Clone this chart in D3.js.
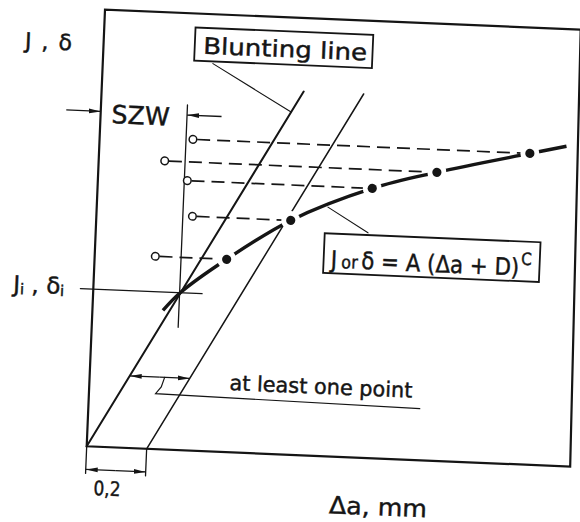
<!DOCTYPE html>
<html>
<head>
<meta charset="utf-8">
<script src="https://cdn.jsdelivr.net/npm/d3@7"></script>
<style>
  html, body { margin: 0; padding: 0; background: #fff; }
  svg { display: block; }
  text { font-family: "DejaVu Sans", sans-serif; fill: #151515; stroke: #151515; stroke-width: 0.45px; }
</style>
</head>
<body>
<svg id="chart" width="580" height="522"></svg>
<script>
// Measured points: crack extension Δa (mm) and J (or δ), J in % of the axis height
const pointDa = [0.44, 0.648, 0.915, 1.128, 1.435];
const pointJ  = [44.1, 53.6, 61.7, 66.0, 71.2];
// Open markers: Δa at which each point is first plotted before projection
const openDa  = [0.202, 0.32, 0.298, 0.22, 0.311];
// Power-law fit J = A(Δa + D)^C, drawn from its first to its last value
const fitDa = [0.235, 0.29, ...pointDa, 1.556];
const fitJ  = [31.8, 36.0, ...pointJ, 73.2];
// Blunting line and the parallel exclusion line
const bluntSlope = 123.6;   // J per mm
const bluntTopJ = 83.2;
const offsetDa = 0.2;       // mm
// Stretch zone width and initiation value
const szwDa = 0.288;
const initJ = 36.0;
// Axis domains
const daDomain = [0, 1.6];
const jDomain = [0, 100];

const ink = "#151515";
const svg = d3.select("#chart");

const x = d3.scaleLinear().domain(daDomain).range([0, 480]);
const y = d3.scaleLinear().domain(jDomain).range([0, -437]);

// whole sheet sits slightly turned
const g = svg.append("g").attr("transform", "translate(86.7,446.3) rotate(2.4)");

const defs = svg.append("defs");
defs.append("marker")
  .attr("id", "arr").attr("viewBox", "0 0 12 6")
  .attr("refX", 12).attr("refY", 3)
  .attr("markerWidth", 12).attr("markerHeight", 6)
  .attr("markerUnits", "userSpaceOnUse")
  .attr("orient", "auto-start-reverse")
  .append("path").attr("d", "M0,0.6 L12,3 L0,5.4 Z").attr("fill", ink);

const line = d3.line().x(d => x(d[0])).y(d => y(d[1]));
function seg(pts, w, extra) {
  const p = g.append("path").attr("d", line(pts))
    .attr("fill", "none").attr("stroke", ink).attr("stroke-width", w)
    .attr("stroke-linecap", "round");
  if (extra) extra(p);
  return p;
}

// frame
g.append("path")
  .attr("d", line([[0, 0], [0, 100], [1.587, 100], [1.613, 0]]) + "Z")
  .attr("fill", "none").attr("stroke", ink).attr("stroke-width", 2.2)
  .attr("stroke-linejoin", "miter");

// blunting line and exclusion line
seg([[0, 0], [bluntTopJ / bluntSlope, bluntTopJ]], 2);
seg([[offsetDa, 0], [offsetDa + bluntTopJ / bluntSlope, bluntTopJ]], 1.5);

// stretch zone width line and initiation level
seg([[szwDa, 28.1], [szwDa, 79]], 1.3);
seg([[-0.043, initJ], [0.363, initJ]], 1.3);

// dashed projections from the open markers to the measured points
pointDa.forEach((da, i) => {
  seg([[openDa[i] + 0.014, pointJ[i]], [da, pointJ[i]]], 1.7,
    p => p.attr("stroke-dasharray", "13,7").attr("stroke-linecap", "butt"));
});

// power-law fit
g.append("path")
  .attr("d", d3.line().x(d => x(d[0])).y(d => y(d[1])).curve(d3.curveCatmullRom)(fitDa.map((d, i) => [d, fitJ[i]])))
  .attr("fill", "none").attr("stroke", ink).attr("stroke-width", 3.4)
  .attr("stroke-linecap", "butt");

// clearance round each measured point
g.selectAll("circle.halo").data(pointDa).join("circle")
  .attr("class", "halo")
  .attr("cx", d => x(d)).attr("cy", (d, i) => y(pointJ[i]))
  .attr("r", 9.5).attr("fill", "#fff");

g.selectAll("circle.pt").data(pointDa).join("circle")
  .attr("class", "pt")
  .attr("cx", d => x(d)).attr("cy", (d, i) => y(pointJ[i]))
  .attr("r", 4.6).attr("fill", ink);

g.selectAll("circle.open").data(openDa).join("circle")
  .attr("class", "open")
  .attr("cx", d => x(d)).attr("cy", (d, i) => y(pointJ[i]))
  .attr("r", 3.8).attr("fill", "#fff").attr("stroke", ink).attr("stroke-width", 1.5);

// SZW dimension
seg([[-0.115, 76.7], [0, 76.7]], 1.3, p => p.attr("marker-end", "url(#arr)").attr("stroke-linecap", "butt"));
seg([[0.403, 76.7], [szwDa, 76.7]], 1.3, p => p.attr("marker-end", "url(#arr)").attr("stroke-linecap", "butt"));
g.append("text").attr("x", 11).attr("y", -324)
  .attr("font-size", 25).attr("textLength", 58).attr("lengthAdjust", "spacingAndGlyphs").text("SZW");

// 0.2 mm dimension under the axis
seg([[0, 0], [0, -6.2]], 1.3);
seg([[offsetDa, 0], [offsetDa, -6.2]], 1.3);
seg([[0.1, -5.3], [0, -5.3]], 1.3, p => p.attr("marker-end", "url(#arr)").attr("stroke-linecap", "butt"));
seg([[0.1, -5.3], [offsetDa, -5.3]], 1.3, p => p.attr("marker-end", "url(#arr)").attr("stroke-linecap", "butt"));
g.append("text").attr("x", 8.6).attr("y", 48.4)
  .attr("font-size", 20).attr("textLength", 27).attr("lengthAdjust", "spacingAndGlyphs").text("0,2");

// "at least one point" dimension between the two lines
const dimJ = 16.5;
const dimMid = (dimJ / bluntSlope) + offsetDa / 2;
seg([[dimMid, dimJ], [dimJ / bluntSlope, dimJ]], 1.3, p => p.attr("marker-end", "url(#arr)").attr("stroke-linecap", "butt"));
seg([[dimMid, dimJ], [dimJ / bluntSlope + offsetDa, dimJ]], 1.3, p => p.attr("marker-end", "url(#arr)").attr("stroke-linecap", "butt"));
seg([[0.25, dimJ], [0.24, 14.3], [0.222, 12.7], [1.104, 11.8]], 1.2, p => p.attr("stroke-linejoin", "miter"));
g.append("text").attr("x", 140.1).attr("y", -62.2)
  .attr("font-size", 21).attr("textLength", 183).attr("lengthAdjust", "spacingAndGlyphs").text("at least one point");

// label: blunting line
g.append("rect").attr("x", x(0.304)).attr("y", y(96.8))
  .attr("width", x(0.897) - x(0.304)).attr("height", y(89.2) - y(96.8))
  .attr("fill", "#fff").attr("stroke", ink).attr("stroke-width", 1.8);
g.append("text").attr("x", 99.7).attr("y", -397.2)
  .attr("font-size", 23).attr("textLength", 164).attr("lengthAdjust", "spacingAndGlyphs").text("Blunting line");
seg([[0.367, 88.7], [0.634, 78.4]], 1.1);

// label: fit equation
seg([[0.907, 51.5], [0.770, 57.0]], 1.1);
g.append("rect").attr("x", x(0.763)).attr("y", y(51.0))
  .attr("width", x(1.483) - x(0.763)).attr("height", y(41.9) - y(51.0))
  .attr("fill", "#fff").attr("stroke", ink).attr("stroke-width", 1.8);
const eq = g.append("text").attr("x", 236).attr("y", -188.6).attr("font-size", 24)
  .attr("textLength", 201).attr("lengthAdjust", "spacingAndGlyphs");
eq.append("tspan").text("J");
eq.append("tspan").attr("dx", 5).attr("font-size", 18).text("or");
eq.append("tspan").attr("dx", 4).text("δ = A (Δa + D)");
eq.append("tspan").attr("dx", 2).attr("dy", -11).attr("font-size", 17).text("C");

// axis labels
const jl = g.append("text").attr("x", -78.6).attr("y", -395).attr("font-size", 22)
  .attr("textLength", 47).attr("lengthAdjust", "spacing");
jl.text("J , δ");
const ji = g.append("text").attr("x", -80.1).attr("y", -151.1).attr("font-size", 23);
ji.append("tspan").text("J");
ji.append("tspan").attr("font-size", 15).attr("dy", 2).text("i");
ji.append("tspan").attr("dy", -2).text(" , δ");
ji.append("tspan").attr("font-size", 15).attr("dy", 2).text("i");
g.append("text").attr("x", 244.6).attr("y", 56.8)
  .attr("font-size", 24).attr("textLength", 98).attr("lengthAdjust", "spacingAndGlyphs").text("Δa, mm");
</script>
</body>
</html>
